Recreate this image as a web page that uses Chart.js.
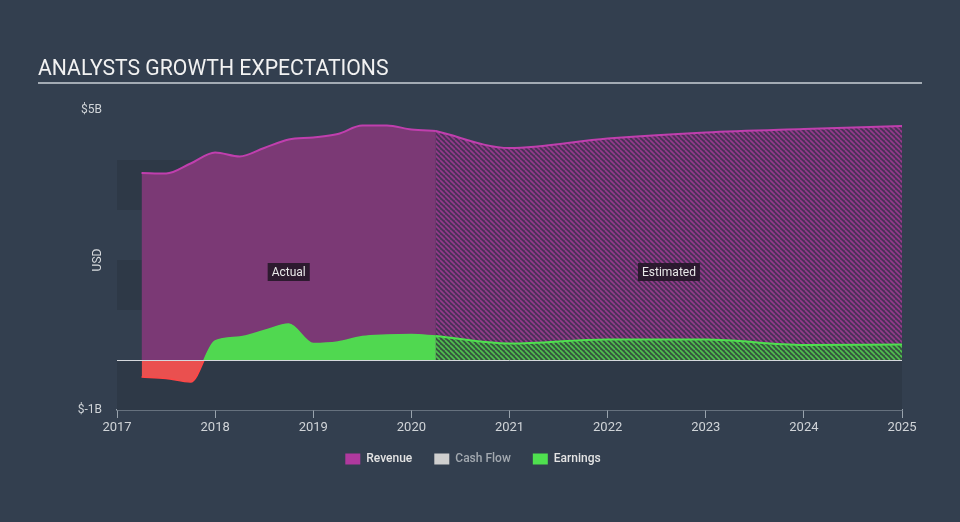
<!DOCTYPE html>
<html>
<head>
<meta charset="utf-8">
<script src="https://cdn.jsdelivr.net/npm/chart.js@4.4.1/dist/chart.umd.min.js"></script>
<style>
  html, body { margin: 0; padding: 0; background: #333f4f; }
  #wrap { position: relative; width: 960px; height: 522px; }
  #title {
    position: absolute; left: 38px; top: 56px; width: 884px;
    font: 21.2px Roboto, sans-serif; color: #f2f2f2; line-height: 24px;
    padding-bottom: 2px; border-bottom: 2px solid #a3abb4;
  }
  canvas { position: absolute; left: 0; top: 0; }
</style>
</head>
<body>
<div id="wrap">
  <canvas id="myChart" width="960" height="522"></canvas>
  <div id="title">ANALYSTS GROWTH EXPECTATIONS</div>
</div>
<script>
// actual (quarterly) values, USD billions
const actualYears    = [2017.25, 2017.5, 2017.75, 2018, 2018.25, 2018.5, 2018.75, 2019, 2019.25, 2019.5, 2019.75, 2020, 2020.25];
const revenueActual  = [3.74, 3.73, 3.93, 4.15, 4.07, 4.24, 4.41, 4.45, 4.52, 4.69, 4.69, 4.61, 4.58];
const earningsActual = [-0.34, -0.37, -0.44, 0.38, 0.46, 0.59, 0.72, 0.33, 0.36, 0.47, 0.50, 0.51, 0.48];

// analyst estimates
const estYears       = [2020.25, 2021, 2022, 2023, 2024, 2025];
const revenueEst     = [4.58, 4.24, 4.43, 4.55, 4.62, 4.68];
const earningsEst    = [0.48, 0.33, 0.41, 0.41, 0.30, 0.31];

const yTickValues = [-1, 5];
const legendNames = ['Revenue', 'Cash Flow', 'Earnings'];

const ctx = document.getElementById('myChart');

function toPoints(xs, ys) {
  return xs.map((x, i) => ({x: x, y: ys[i]}));
}

function hatch(base, line) {
  const s = 5;
  const c = document.createElement('canvas');
  c.width = s; c.height = s;
  const g = c.getContext('2d');
  g.fillStyle = base;
  g.fillRect(0, 0, s, s);
  g.strokeStyle = line;
  g.lineWidth = 1.6;
  g.beginPath();
  [-s, 0, s].forEach(k => { g.moveTo(k, 0); g.lineTo(k + s, s); });
  g.stroke();
  return g.createPattern(c, 'repeat');
}

const revenueHatch = hatch('#4a3258', '#963a8c');
const earningsHatch = hatch('#37553f', '#4fc24f');

// earnings edge: green above zero, red below
function signBorder(c) {
  const chart = c.chart;
  const area = chart.chartArea;
  if (!area) return '#50d850';
  const y = chart.scales.y;
  const z = (y.getPixelForValue(0) - area.top) / (area.bottom - area.top);
  const g = chart.ctx.createLinearGradient(0, area.top, 0, area.bottom);
  g.addColorStop(0, '#50d850');
  g.addColorStop(z, '#50d850');
  g.addColorStop(z, '#ff4646');
  g.addColorStop(1, '#ff4646');
  return g;
}

const bandPlugin = {
  id: 'bands',
  beforeDatasetsDraw(chart) {
    const {ctx, chartArea, scales} = chart;
    const y = scales.y;
    ctx.save();
    ctx.fillStyle = '#2e3947';
    [[3, 4], [1, 2], [-1, 0]].forEach(b => {
      const top = y.getPixelForValue(b[1]);
      const bot = y.getPixelForValue(b[0]);
      ctx.fillRect(chartArea.left, top, chartArea.right - chartArea.left, bot - top);
    });
    ctx.restore();
  }
};

const overlayPlugin = {
  id: 'overlay',
  afterDatasetsDraw(chart) {
    const {ctx, chartArea, scales} = chart;
    const x = scales.x, y = scales.y;
    ctx.save();
    // zero line
    const y0 = Math.round(y.getPixelForValue(0)) + 0.5;
    ctx.strokeStyle = '#d5d8dc';
    ctx.lineWidth = 1;
    ctx.beginPath();
    ctx.moveTo(chartArea.left, y0);
    ctx.lineTo(chartArea.right, y0);
    ctx.stroke();

    // Actual / Estimated tags
    ctx.font = '12px Roboto, sans-serif';
    ctx.textAlign = 'center';
    ctx.textBaseline = 'middle';
    const tags = [
      ['Actual', (actualYears[0] + actualYears[actualYears.length - 1]) / 2],
      ['Estimated', (estYears[0] + estYears[estYears.length - 1]) / 2]
    ];
    tags.forEach(t => {
      const cx = x.getPixelForValue(t[1]);
      const cy = y.getPixelForValue(1.76);
      const w = ctx.measureText(t[0]).width + 8;
      ctx.fillStyle = 'rgba(34, 22, 38, 0.88)';
      ctx.fillRect(cx - w / 2, cy - 9, w, 18);
      ctx.fillStyle = '#e8e8e8';
      ctx.fillText(t[0], cx, cy + 1);
    });

    // axis title
    ctx.translate(98, (chartArea.top + chartArea.bottom) / 2);
    ctx.rotate(-Math.PI / 2);
    ctx.fillStyle = '#d8dbde';
    ctx.fillText('USD', 0, 0);
    ctx.restore();
  }
};

new Chart(ctx, {
  type: 'line',
  data: {
    datasets: [
      {
        label: 'Earnings',
        data: toPoints(actualYears, earningsActual),
        borderWidth: 1.5,
        borderColor: signBorder,
        fill: {target: 'origin', above: '#50d850', below: '#ea504f'},
        order: 0
      },
      {
        label: 'Earnings est',
        data: toPoints(estYears, earningsEst),
        borderColor: '#4fe04f',
        borderWidth: 2,
        backgroundColor: earningsHatch,
        fill: 'origin',
        order: 0
      },
      {
        label: 'Revenue',
        data: toPoints(actualYears, revenueActual),
        borderColor: '#c03fae',
        borderWidth: 2,
        backgroundColor: '#7b3975',
        fill: 'origin',
        order: 1
      },
      {
        label: 'Revenue est',
        data: toPoints(estYears, revenueEst),
        borderColor: '#c03fae',
        borderWidth: 2,
        backgroundColor: revenueHatch,
        fill: 'origin',
        order: 1
      }
    ]
  },
  options: {
    responsive: false,
    animation: false,
    cubicInterpolationMode: 'monotone',
    elements: { point: { radius: 0 } },
    layout: { padding: { left: 44, right: 58, top: 110, bottom: 47 } },
    plugins: {
      tooltip: { enabled: false },
      legend: {
        position: 'bottom',
        onClick: null,
        labels: {
          boxWidth: 15,
          boxHeight: 11,
          padding: 22,
          font: { family: 'Roboto', size: 12, weight: '500' },
          generateLabels: () => [
            {text: legendNames[0], fillStyle: '#b0399e', strokeStyle: '#b0399e', lineWidth: 0, fontColor: '#e4e4e4'},
            {text: legendNames[1], fillStyle: '#cfcfcf', strokeStyle: '#cfcfcf', lineWidth: 0, fontColor: '#a3a9b0'},
            {text: legendNames[2], fillStyle: '#4fe04f', strokeStyle: '#4fe04f', lineWidth: 0, fontColor: '#e4e4e4'}
          ]
        }
      }
    },
    scales: {
      x: {
        type: 'linear',
        min: 2017,
        max: 2025,
        afterFit: s => { s.height = 21; },
        ticks: {
          stepSize: 1,
          color: '#d0d4d8',
          font: { family: 'Roboto', size: 13 },
          padding: 2,
          callback: v => String(v)
        },
        grid: { drawOnChartArea: false, drawTicks: true, tickLength: 8, color: '#9aa4ae' },
        border: { color: '#9aa4ae', width: 1.5 }
      },
      y: {
        min: -1,
        max: 5,
        afterFit: s => { s.width = 73; },
        afterBuildTicks: s => { s.ticks = yTickValues.map(v => ({value: v})); },
        ticks: {
          color: '#d0d4d8',
          font: { family: 'Roboto', size: 12 },
          padding: 15,
          callback: v => '$' + v + 'B'
        },
        grid: { display: false, drawTicks: false },
        border: { display: false }
      }
    }
  },
  plugins: [bandPlugin, overlayPlugin]
});
</script>
</body>
</html>
